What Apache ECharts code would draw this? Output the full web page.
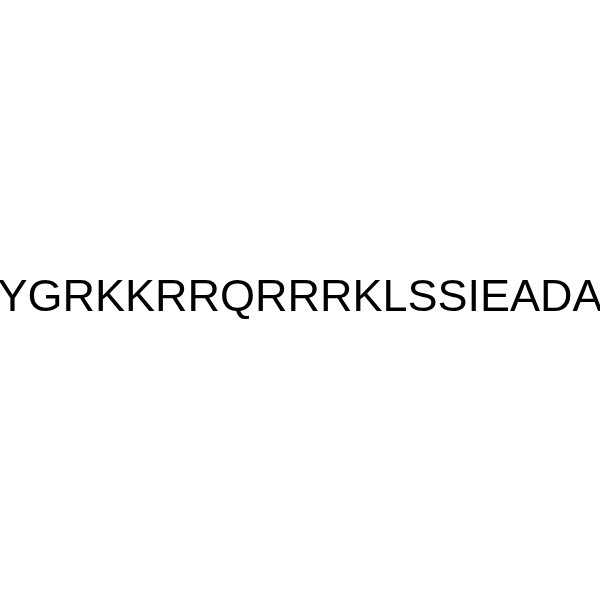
<!DOCTYPE html>
<html><head><meta charset="utf-8">
<script src="https://cdn.jsdelivr.net/npm/echarts@6/dist/echarts.min.js"></script>
<style>html,body{margin:0;padding:0;background:#fff}#c{width:600px;height:600px}</style>
</head><body><div id="c"></div>
<script>
const sequenceLabel = ["YGRKKRRQRRRKLSSIEADA"];
const chart = echarts.init(document.getElementById('c'), null, {renderer: 'canvas'});
chart.setOption({
  backgroundColor: '#ffffff',
  animation: false,
  graphic: sequenceLabel.map(t => ({
    type: 'text',
    left: 'center',
    top: 276,
    style: {
      text: t,
      fill: '#000000',
      font: '45px "Liberation Sans", Arial, sans-serif'
    }
  }))
});
</script></body></html>
